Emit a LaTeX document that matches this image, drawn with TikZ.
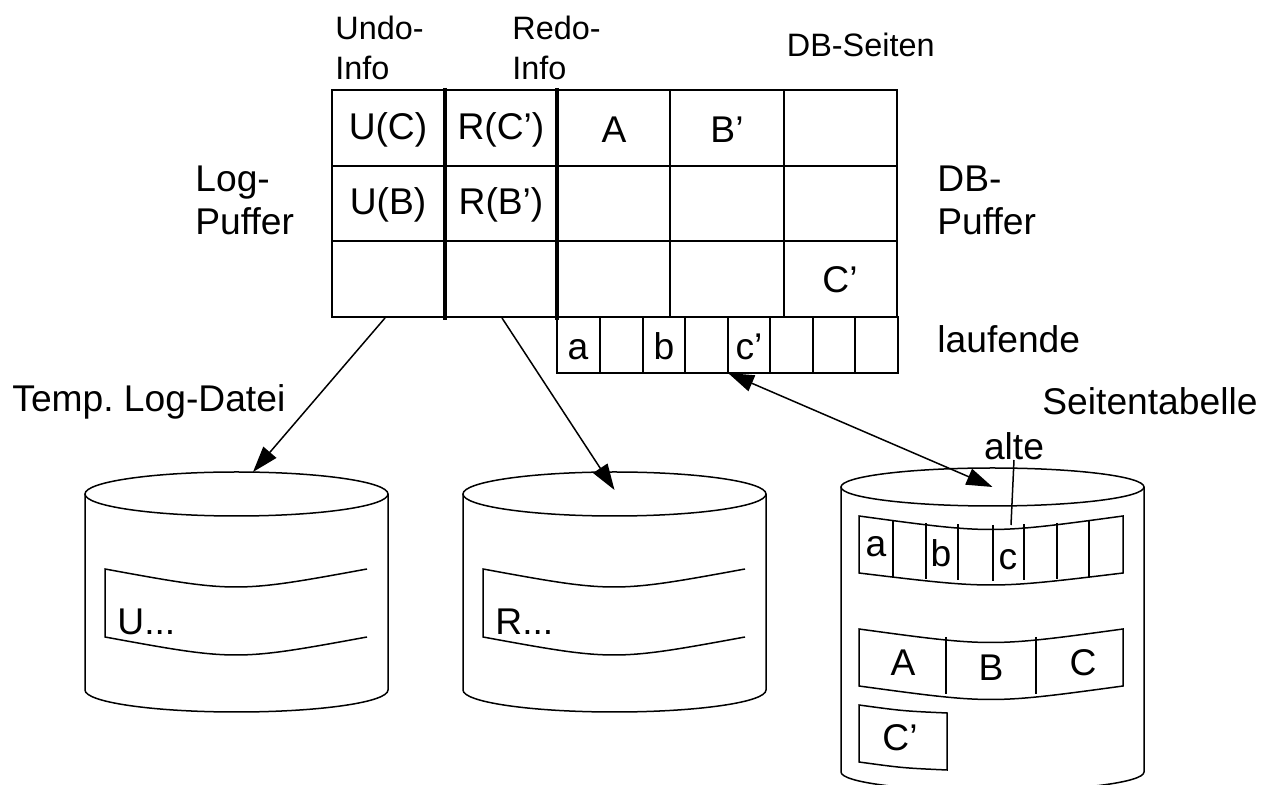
\documentclass[tikz,border=0pt]{standalone}
\usepackage{fontspec}
\setmainfont{Liberation Sans}
\usetikzlibrary{arrows.meta}

\begin{document}
\begin{tikzpicture}[x=0.5pt,y=-0.5pt,
  big/.style={font=\fontsize{18.6}{20}\selectfont,inner sep=0},
  small/.style={font=\fontsize{16.2}{17}\selectfont,inner sep=0},
  thin/.style={line width=0.75pt},
  bar/.style={line width=2pt},
  tip/.style={-{Triangle[length=13pt,width=8.5pt]}},
  both/.style={{Triangle[length=13pt,width=8.5pt]}-{Triangle[length=13pt,width=8.5pt]}}]
\useasboundingbox (0,0) rectangle (1265,785);
% Log-Puffer und DB-Puffer
\draw[thin] (332,90) rectangle (445,166);
\draw[thin] (445,90) rectangle (557,166);
\draw[thin] (557,90) rectangle (670,166);
\draw[thin] (670,90) rectangle (784,166);
\draw[thin] (784,90) rectangle (897,166);
\draw[thin] (332,166) rectangle (445,241);
\draw[thin] (445,166) rectangle (557,241);
\draw[thin] (557,166) rectangle (670,241);
\draw[thin] (670,166) rectangle (784,241);
\draw[thin] (784,166) rectangle (897,241);
\draw[thin] (332,241) rectangle (445,317);
\draw[thin] (445,241) rectangle (557,317);
\draw[thin] (557,241) rectangle (670,317);
\draw[thin] (670,241) rectangle (784,317);
\draw[thin] (784,241) rectangle (897,317);
\draw[bar] (445,88) -- (445,320);
\draw[bar] (557,88) -- (557,320);
\node[big] (uc) at (388,130) {U(C)};
\node[big] (rc) at (501,130) {R(C')};
\node[big] (pa) at (614,130) {A};
\node[big] (pb) at (727,130) {B'};
\node[big] (ub) at (388,205) {U(B)};
\node[big] (rb) at (501,205) {R(B')};
\node[big] (pc) at (840,280) {C'};
\node[small,anchor=base west] (undo1) at (335,40) {Undo-};
\node[small,anchor=base west] (undo2) at (335,80) {Info};
\node[small,anchor=base west] (redo1) at (512,40) {Redo-};
\node[small,anchor=base west] (redo2) at (512,80) {Info};
\node[small,anchor=base east] (seiten) at (935,57) {DB-Seiten};
\node[big,anchor=base west] (log1) at (195,192) {Log-};
\node[big,anchor=base west] (log2) at (195,235) {Puffer};
\node[big,anchor=base west] (db1) at (937,192) {DB-};
\node[big,anchor=base west] (db2) at (937,235) {Puffer};
% laufende Seitentabelle
\draw[thin] (557,317) rectangle (600,373);
\draw[thin] (600,317) rectangle (643,373);
\draw[thin] (643,317) rectangle (685,373);
\draw[thin] (685,317) rectangle (728,373);
\draw[thin] (728,317) rectangle (770,373);
\draw[thin] (770,317) rectangle (813,373);
\draw[thin] (813,317) rectangle (855,373);
\draw[thin] (855,317) rectangle (898,373);
\node[big,anchor=base] (la) at (578,360) {a};
\node[big,anchor=base] (lb) at (664,360) {b};
\node[big,anchor=base] (lc) at (749,360) {c'};
\node[big,anchor=base west] (lauf) at (937,353) {laufende};
\coordinate (undoout) at (385,318);
\coordinate (redoout) at (502,318);
\coordinate (cnew) at (728,373);
% Platten
\node[big,anchor=base west] (temp) at (12,412) {Temp.\ Log-Datei};
\node[big,anchor=base west] (stab) at (1042,415) {Seitentabelle};
\draw[thin] (236.5,494) ellipse (75.75pt and 11pt);
\draw[thin] (85,494) -- (85,690) arc[start angle=180,end angle=360,x radius=75.75pt,y radius=11pt] -- (388,494);
\draw[thin] (367,569) .. controls (236,593) .. (105,569) -- (105,637) .. controls (236,661) .. (367,637);
\node[big,anchor=west] (undolog) at (117,622) {U...};
\coordinate (undotop) at (253,472);
\draw[thin] (614.5,494) ellipse (75.75pt and 11pt);
\draw[thin] (463,494) -- (463,690) arc[start angle=180,end angle=360,x radius=75.75pt,y radius=11pt] -- (766,494);
\draw[thin] (745,569) .. controls (614,593) .. (483,569) -- (483,637) .. controls (614,661) .. (745,637);
\node[big,anchor=west] (redolog) at (495,622) {R...};
\coordinate (redotop) at (614.5,490);
\draw[thin] (992.5,487) ellipse (75.75pt and 9.5pt);
\draw[thin] (841,487) -- (841,772) arc[start angle=180,end angle=360,x radius=75.75pt,y radius=9.5pt] -- (1144,487);
\coordinate (stabtop) at (992.5,487);
\draw[thin] (859,516) .. controls (991,534) .. (1123,516) -- (1123,573) .. controls (991,589) .. (859,573) -- cycle;
\draw[thin] (893,520) -- (893,576.6);
\draw[thin] (926,522.8) -- (926,579.1);
\draw[thin] (958,524.4) -- (958,580.5);
\draw[thin] (993,525) -- (993,581);
\draw[thin] (1024,524.4) -- (1024,580.5);
\draw[thin] (1057,522.8) -- (1057,579.1);
\draw[thin] (1089,520) -- (1089,576.6);
\node[big,anchor=base] (oa) at (876,557) {a};
\node[big,anchor=base] (ob) at (941,567) {b};
\node[big,anchor=base] (oc) at (1008,570) {c};
\coordinate (cold) at (1011,525);
\node[big,anchor=base] (alte) at (1014,460) {alte};
\draw[thin] (859,629) .. controls (991,647) .. (1123,629) -- (1123,686) .. controls (991,704) .. (859,686) -- cycle;
\draw[thin] (946,637) -- (946,694);
\draw[thin] (1036,637) -- (1036,694);
\node[big] (sa) at (903,663) {A};
\node[big] (sb) at (991,668) {B};
\node[big] (sc) at (1083,663) {C};
\draw[thin] (859,705) .. controls (903,711) .. (947,713) -- (947,770) .. controls (903,768) .. (859,762) -- cycle;
\node[big] (sc2) at (900,738) {C'};
% Pfeile
\draw[thin,tip] (undoout) -- (undotop);
\draw[thin,tip] (redoout) -- (redotop);
\draw[thin,both] (cnew) -- (stabtop);
\draw[thin] (alte.base) -- (cold);
\end{tikzpicture}
\end{document}
